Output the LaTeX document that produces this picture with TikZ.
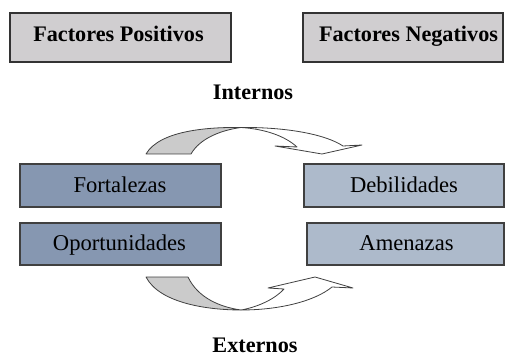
\documentclass[tikz,border=0pt]{standalone}
\usepackage{fontspec}
\setmainfont{Liberation Serif}
\begin{document}
\begin{tikzpicture}[x=1pt,y=-1pt,
  hdrbox/.style={draw=black!80, line width=1.8pt, fill=hdrgray, inner sep=0pt, outer sep=0pt},
  posbox/.style={draw=black!75, line width=1.3pt, fill=posblue, inner sep=0pt, outer sep=0pt},
  negbox/.style={draw=black!75, line width=1.3pt, fill=negblue, inner sep=0pt, outer sep=0pt},
  hdrlbl/.style={font=\fontsize{22.2}{26}\selectfont\bfseries, inner sep=0pt, anchor=base},
  itemlbl/.style={font=\fontsize{22.6}{26}\selectfont, inner sep=0pt, anchor=base},
  arrowline/.style={draw=black!75, line width=0.8pt, line join=round},
]
\definecolor{hdrgray}{HTML}{D0CED0}
\definecolor{posblue}{HTML}{8697B1}
\definecolor{negblue}{HTML}{ADBACB}
\definecolor{arrgray}{HTML}{CBCBCB}
\useasboundingbox (0,0) rectangle (505,358);

% header boxes
\node[hdrbox, minimum width=221pt, minimum height=49pt] (fpbox) at (120.5,37.5) {};
\node[hdrbox, minimum width=200pt, minimum height=49pt] (fnbox) at (403,37.5) {};
\node[hdrlbl] (fp) at (118.5,41.5) {Factores Positivos};
\node[hdrlbl] (fn) at (408.5,41.5) {Factores Negativos};

% Internos / Externos
\node[hdrlbl] (internos) at (253,100) {Internos};
\node[hdrlbl] (externos) at (255,352.5) {Externos};

% item boxes
\node[posbox, minimum width=201pt, minimum height=43pt] (fortbox) at (120.5,185.5) {};
\node[negbox, minimum width=200pt, minimum height=43pt] (debbox) at (404,185.5) {};
\node[posbox, minimum width=201pt, minimum height=42pt] (oppbox) at (120.5,244) {};
\node[negbox, minimum width=197pt, minimum height=42pt] (amebox) at (405.5,244) {};
\node[itemlbl] (fort) at (120,192.5) {Fortalezas};
\node[itemlbl] (deb) at (404,192.5) {Debilidades};
\node[itemlbl] (opp) at (119.5,250) {Oportunidades};
\node[itemlbl] (ame) at (406.5,250) {Amenazas};

% top curved arrow (gray back part)
\filldraw[arrowline, fill=arrgray]
  (146,154) .. controls (160,130) and (210,127) .. (241,127.5)
  .. controls (222,130) and (200,138) .. (191,154) -- cycle;
% top curved arrow (white front part with head)
\filldraw[arrowline, fill=white]
  (241,127.5) .. controls (285,127) and (325,134) .. (343,146)
  -- (362,145) -- (322,154) -- (275,146) -- (297,147)
  .. controls (285,136) and (265,129) .. (241,127.5) -- cycle;

% bottom curved arrow (gray back part)
\filldraw[arrowline, fill=arrgray]
  (146,277) .. controls (160,304) and (210,310) .. (241,310)
  .. controls (220,307) and (198,298) .. (188,277) -- cycle;
% bottom curved arrow (white front part with head)
\filldraw[arrowline, fill=white]
  (241,310) .. controls (280,310) and (315,301) .. (332,287)
  -- (353,288) -- (315,277) -- (268,288) -- (284,289)
  .. controls (275,299) and (258,307) .. (241,310) -- cycle;
\end{tikzpicture}
\end{document}
